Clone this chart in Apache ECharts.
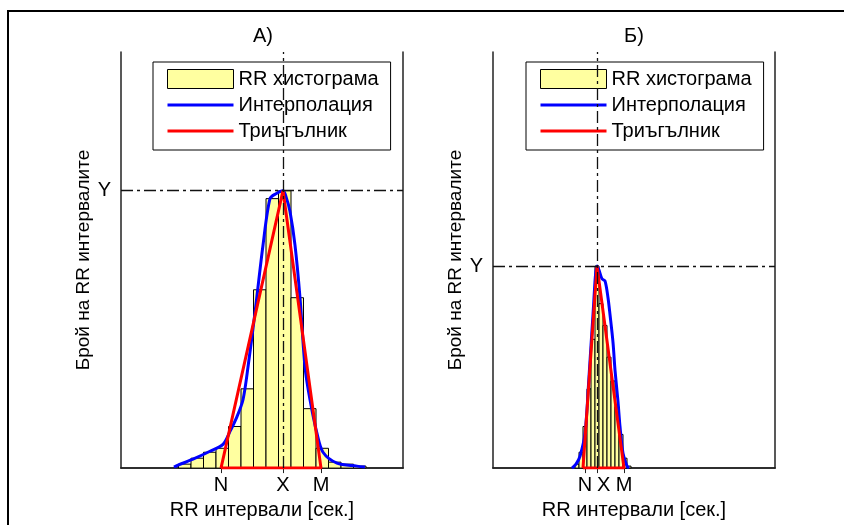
<!DOCTYPE html>
<html>
<head>
<meta charset="utf-8">
<script src="https://cdn.jsdelivr.net/npm/echarts@6/dist/echarts.min.js"></script>
<style>
  html, body { margin: 0; padding: 0; background: #fff; }
  #chart { width: 844px; height: 525px; }
</style>
</head>
<body>
<div id="chart"></div>
<script>
// RR интервали в ms, брой в интервал
var edgesA = [615, 640, 665, 690, 715, 740, 765, 790, 815, 840, 865, 890, 915, 940, 965, 990];
var countsA = [2, 5, 8, 10, 21, 40, 90, 136, 140, 86, 30, 10, 3, 2, 1];
var edgesB = [664, 672, 680, 688, 696, 704, 712, 720, 728, 736, 744, 752, 760, 768, 776];
var countsB = [2, 8, 21, 40, 65, 102, 83, 72, 56, 44, 31, 17, 5, 1];

// интерполация [x, y]
var interpA = [[606, 0.5], [614, 1.5], [644, 4.5], [678, 8.5], [704, 12], [718, 18.5], [732, 26], [744, 34.5],
  [754, 51], [768, 78.5], [784, 112.5], [798, 136], [810, 138.5], [824, 140], [830, 137], [838, 129.5],
  [848, 112.5], [858, 86], [868, 51], [878, 34.5], [892, 17.5], [904, 8], [932, 2.5], [972, 1], [988, 0.5]];
var interpB = [[658, 0], [666, 2], [674, 6], [684, 17.5], [692, 46], [700, 77.5], [708, 102], [712, 100],
  [718, 95.5], [724, 94.5], [730, 86], [734, 77.5], [740, 63.5], [744, 49.5], [750, 33.5], [754, 21],
  [760, 7.5], [768, 1], [772, 0]];

// триъгълник N - X - M
var triA = [[700, 0], [824, 140], [900, 0], [700, 0]];
var triB = [[680, 0], [708, 102], [762, 0], [680, 0]];

var ticksA = [700, 824, 900];
var ticksB = [684, 708, 762];
var tickNames = ['N', 'X', 'M'];
var peakA = 140, peakB = 102;

var names = ['RR хистограма', 'Интерполация', 'Триъгълник'];
var font = 'Liberation Sans, Arial, sans-serif';

function bins(edges, counts) {
  return counts.map(function (c, i) { return [edges[i], edges[i + 1], c]; });
}

function renderBar(params, api) {
  var p0 = api.coord([api.value(0), 0]);
  var p1 = api.coord([api.value(1), api.value(2)]);
  return {
    type: 'rect',
    shape: { x: p0[0], y: p1[1], width: p1[0] - p0[0], height: p0[1] - p1[1] },
    style: { fill: '#ffffa0', stroke: '#000', lineWidth: 1 }
  };
}

// labels: ticks whose label is shown on the main bottom axis
function xAxes(grid, ticks, labels) {
  var fmt = function (v) { return tickNames[ticks.indexOf(v)] || ''; };
  var line = { show: true, lineStyle: { color: '#222', width: 1.5 } };
  return [{
    type: 'value', gridIndex: grid, min: 500, max: 1064, position: 'bottom',
    axisLine: line, splitLine: { show: false },
    axisTick: { inside: true, length: 5, customValues: ticks, lineStyle: { color: '#222' } },
    axisLabel: { customValues: labels, formatter: fmt, margin: 7, hideOverlap: false, interval: 0,
      color: '#000', fontSize: 20, fontFamily: font },
    name: 'RR интервали [сек.]', nameLocation: 'middle', nameGap: 29,
    nameTextStyle: { color: '#000', fontSize: 20, fontFamily: font }
  }, {
    type: 'value', gridIndex: grid, min: 500, max: 1064, position: 'top',
    axisLine: line, splitLine: { show: false },
    axisTick: { inside: true, length: 5, customValues: ticks, lineStyle: { color: '#222' } },
    axisLabel: { show: false }
  }];
}

function yAxes(grid, peak) {
  var line = { show: true, lineStyle: { color: '#222', width: 1.5 } };
  return [{
    type: 'value', gridIndex: grid, min: 0, max: 210, position: 'left',
    axisLine: line, splitLine: { show: false }, axisTick: { show: false },
    axisLabel: { customValues: [peak], formatter: function () { return 'Y'; }, margin: 10,
      color: '#000', fontSize: 20, fontFamily: font },
    name: 'Брой на RR интервалите', nameLocation: 'middle', nameGap: 22,
    nameTextStyle: { color: '#000', fontSize: 19, fontFamily: font }
  }, {
    type: 'value', gridIndex: grid, min: 0, max: 210, position: 'right',
    axisLine: line, splitLine: { show: false }, axisTick: { show: false }, axisLabel: { show: false }
  }];
}

function panelSeries(xi, yi, edges, counts, interp, tri, xPeak, yPeak) {
  return [{
    name: names[0], type: 'custom', xAxisIndex: xi, yAxisIndex: yi,
    renderItem: renderBar, encode: { x: [0, 1], y: 2 },
    itemStyle: { color: '#ffffa0', borderColor: '#000' },
    data: bins(edges, counts),
    markLine: {
      silent: true, symbol: 'none', label: { show: false },
      lineStyle: { color: '#111', width: 1.3, type: [12, 4, 3, 4] },
      data: [{ yAxis: yPeak }, { xAxis: xPeak }]
    }
  }, {
    name: names[1], type: 'line', xAxisIndex: xi, yAxisIndex: yi,
    showSymbol: false, symbol: 'none', smooth: 0.3,
    lineStyle: { color: '#0000ff', width: 3 }, itemStyle: { color: '#0000ff' },
    data: interp
  }, {
    name: names[2], type: 'line', xAxisIndex: xi, yAxisIndex: yi,
    showSymbol: false, symbol: 'none',
    lineStyle: { color: '#ff0000', width: 3 }, itemStyle: { color: '#ff0000' },
    data: tri
  }];
}

function legend(left) {
  return {
    orient: 'vertical', left: left, top: 62,
    padding: [7, 12, 9, 13], itemWidth: 66, itemHeight: 19, itemGap: 6,
    backgroundColor: '#fff', borderColor: '#000', borderWidth: 1, borderRadius: 0,
    selectedMode: false,
    textStyle: { color: '#000', fontSize: 20, fontFamily: font },
    data: [
      { name: names[0], icon: 'rect', itemStyle: { color: '#ffffa0', borderColor: '#000', borderWidth: 1 } },
      { name: names[1], itemStyle: { opacity: 0 }, lineStyle: { width: 3 } },
      { name: names[2], itemStyle: { opacity: 0 }, lineStyle: { width: 3 } }
    ]
  };
}

// panel Б: the X label sits on its own axis so it is not dropped next to N
var xLabelB = {
  type: 'value', gridIndex: 1, min: 500, max: 1064, position: 'bottom',
  axisLine: { show: false }, axisTick: { show: false }, splitLine: { show: false },
  axisLabel: { customValues: [ticksB[1]], formatter: function () { return tickNames[1]; },
    align: 'left', margin: 7, color: '#000', fontSize: 20, fontFamily: font }
};

var myChart = echarts.init(document.getElementById('chart'));
myChart.setOption({
  animation: false,
  backgroundColor: '#fff',
  title: [
    { text: 'А)', left: 258, top: 21, textAlign: 'center',
      textStyle: { color: '#000', fontSize: 20, fontWeight: 'normal', fontFamily: font } },
    { text: 'Б)', left: 629, top: 21, textAlign: 'center',
      textStyle: { color: '#000', fontSize: 20, fontWeight: 'normal', fontFamily: font } }
  ],
  graphic: [{
    type: 'polyline', silent: true,
    shape: { points: [[8, 525], [8, 11], [844, 11]] },
    style: { stroke: '#000', lineWidth: 2, fill: null }
  }],
  legend: [legend(153), legend(526)],
  grid: [
    { left: 121, top: 52, width: 282, height: 420 },
    { left: 493, top: 52, width: 282, height: 420 }
  ],
  xAxis: xAxes(0, ticksA, ticksA)
    .concat(xAxes(1, ticksB, [ticksB[0], ticksB[2]]))
    .concat([xLabelB]),
  yAxis: yAxes(0, peakA).concat(yAxes(1, peakB)),
  series: panelSeries(0, 0, edgesA, countsA, interpA, triA, ticksA[1], peakA)
    .concat(panelSeries(2, 2, edgesB, countsB, interpB, triB, ticksB[1], peakB))
});
</script>
</body>
</html>
